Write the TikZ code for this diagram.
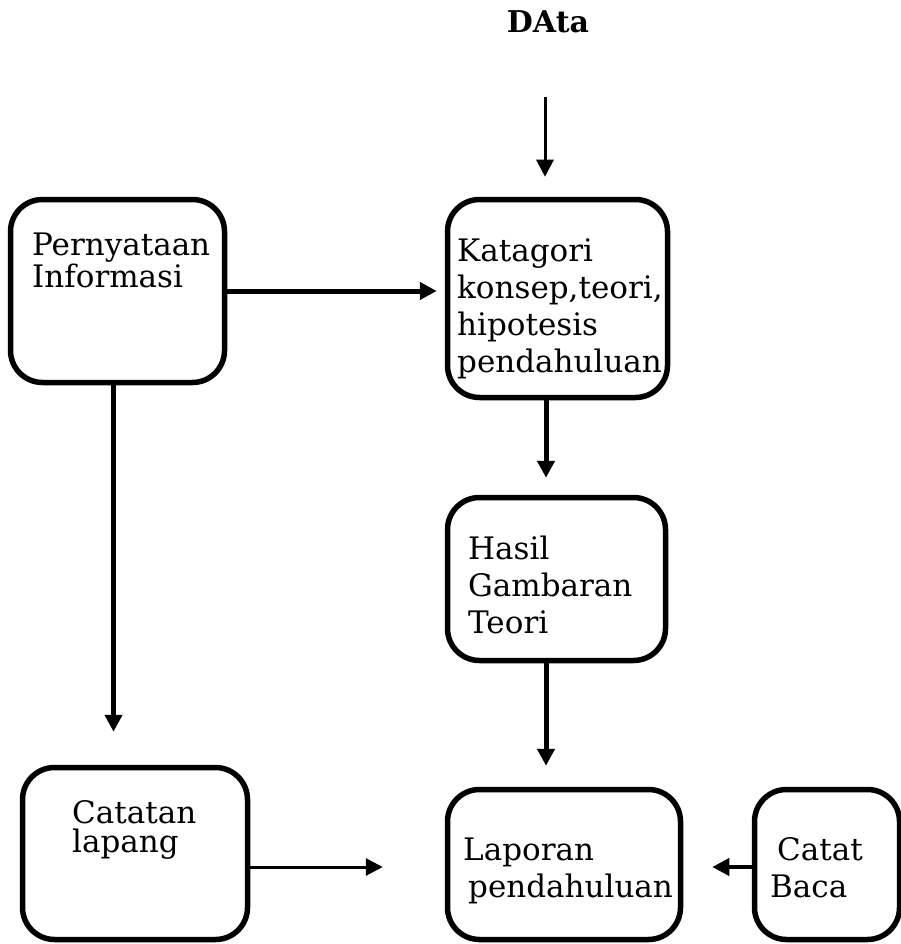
\documentclass[tikz,border=0pt]{standalone}
\usepackage{fontspec}
\setmainfont{DejaVu Serif}
\usetikzlibrary{positioning,arrows.meta}
\definecolor{ink}{HTML}{000000}

\begin{document}
\begin{tikzpicture}[x=1pt,y=-1pt,
    box/.style={draw=ink,line width=5.5pt,rounded corners=32pt,inner sep=0pt},
    txtl/.style={anchor=base west,align=left,inner sep=0pt,text=ink,
      font=\fontsize{31}{29}\selectfont},
    txtr/.style={anchor=base west,align=left,inner sep=0pt,text=ink,
      font=\fontsize{31}{37}\selectfont},
    arr/.style={draw=ink,line width=#1,-{Triangle[length=17pt,width=17pt]}},
    arr/.default=5pt]
  \useasboundingbox (0,0) rectangle (901,944);
  % title + guide points
  \node[anchor=base,text=ink,font=\fontsize{30}{36}\selectfont\bfseries] (data) at (548,33) {DAta};
  \coordinate (dataIn) at (545,97);
  \coordinate (spine) at (546,0);
  \coordinate (row) at (0,867);
  % boxes
  \node[box,minimum width=214pt,minimum height=183pt] (pern) at (117.5,291) {};
  \node[box,minimum width=220pt,minimum height=198pt] (kat) at (557.5,298.5) {};
  \node[box,minimum width=218pt,minimum height=163pt] (hasil) at (556.5,579) {};
  \node[box,minimum width=225pt,minimum height=172pt] (catatan) at (135,853.5) {};
  \node[box,minimum width=233pt,minimum height=150pt] (lap) at (564,864.5) {};
  \node[box,minimum width=145pt,minimum height=150pt] (catat) at (827,864.5) {};
  % box texts (anchored on the last line)
  \node[txtl] (pernT) at (32,287) {Pernyataan\\Informasi};
  \node[txtr] (katT) at (457,372) {Katagori\\konsep,teori,\\hipotesis\\pendahuluan};
  \node[txtr] (hasilT) at (468,633) {Hasil\\Gambaran\\Teori};
  \node[txtl] (catatanT) at (72,852) {Catatan\\lapang};
  \node[txtr] (lapT) at (463,897) {Laporan\\\hspace*{5pt}pendahuluan};
  \node[txtr] (catatT) at (770,897) {\hspace*{7pt}Catat\\Baca};
  % arrows
  \draw[arr=3pt] (dataIn) -- ([yshift=20pt]dataIn |- kat.north);
  \draw[arr] (pern.east) -- ([xshift=-8pt]pern.east -| kat.west);
  \draw[arr] ([xshift=-4pt]pern.south) -- ([shift={(-4pt,33pt)}]pern.south |- catatan.north);
  \draw[arr] (kat.south -| spine) -- ([yshift=17pt]hasil.north -| spine);
  \draw[arr] (hasil.south -| spine) -- ([yshift=21pt]lap.north -| spine);
  \draw[arr=3pt] (catatan.east |- row) -- ([xshift=-62pt]lap.west |- row);
  \draw[arr=4pt] (catat.west |- row) -- ([xshift=29pt]lap.east |- row);
\end{tikzpicture}
\end{document}
